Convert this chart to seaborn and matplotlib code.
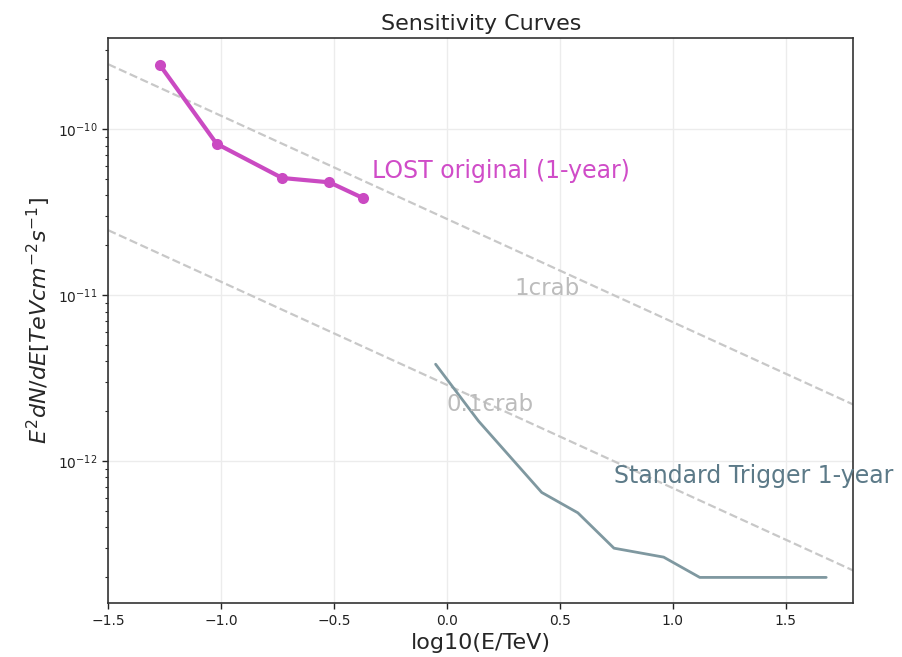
import numpy as np
import pandas as pd
import matplotlib
matplotlib.use("Agg")
import matplotlib.pyplot as plt
from matplotlib.ticker import NullFormatter
import seaborn as sns

# LOST original sensitivity (1-year)
lost_logE = [-1.27, -1.02, -0.73, -0.52, -0.37]
lost_flux = [2.43e-10, 8.2e-11, 5.1e-11, 4.8e-11, 3.85e-11]

# standard trigger sensitivity (1-year)
std_logE = [-0.05, 0.14, 0.42, 0.58, 0.74, 0.96, 1.12, 1.68]
std_flux = [3.85e-12, 1.75e-12, 6.5e-13, 4.9e-13, 3.0e-13, 2.65e-13, 2.0e-13, 2.0e-13]

# crab reference lines, end points across the axis
crab_logE = [-1.5, 1.8]
crab_1 = [2.47e-10, 2.2e-12]
crab_01 = [2.47e-11, 2.2e-13]

lost_df = pd.DataFrame({"logE": lost_logE, "flux": lost_flux})
std_df = pd.DataFrame({"logE": std_logE, "flux": std_flux})

sns.set_style("white")
fig, ax = plt.subplots(figsize=(9.02, 6.57), dpi=100)

ax.plot(crab_logE, crab_1, ls="--", color="#c8c8c8", lw=1.6)
ax.plot(crab_logE, crab_01, ls="--", color="#c8c8c8", lw=1.6)

sns.lineplot(data=lost_df, x="logE", y="flux", ax=ax, color="#ca4ac2",
             lw=3, marker="o", markersize=8, markeredgewidth=0,
             estimator=None, sort=False)
sns.lineplot(data=std_df, x="logE", y="flux", ax=ax, color="#7f98a0",
             lw=2, estimator=None, sort=False)

ax.text(-0.33, 5.1e-11, "LOST original (1-year)", color="#d04cc8", fontsize=17)
ax.text(0.3, 1.0e-11, "1crab", color="#bcbcbc", fontsize=16.5)
ax.text(0.0, 2.0e-12, "0.1crab", color="#bcbcbc", fontsize=16.5)
ax.text(0.74, 7.4e-13, "Standard Trigger 1-year", color="#5c7a88", fontsize=17)

ax.set_yscale("log")
ax.set_xlim(-1.5, 1.8)
ax.set_ylim(1.4e-13, 3.55e-10)
ax.yaxis.set_minor_formatter(NullFormatter())
ax.grid(True, which="major", color="#ececec", lw=1)
ax.tick_params(axis="both", which="major", labelsize=10, length=4, width=1,
               left=True, bottom=True, colors="#222222")
ax.tick_params(axis="y", which="minor", left=True, length=2, width=0.8)
for s in ax.spines.values():
    s.set_color("#333333")
    s.set_linewidth(1.2)

ax.set_title("Sensitivity Curves", fontsize=16)
ax.set_xlabel("log10(E/TeV)", fontsize=16)
ax.set_ylabel(r"$E^2dN/dE[TeV cm^{-2} s^{-1}]$", fontsize=16)

fig.subplots_adjust(left=0.12, right=0.946, top=0.942, bottom=0.082)
fig.savefig("out.png", dpi=100)
